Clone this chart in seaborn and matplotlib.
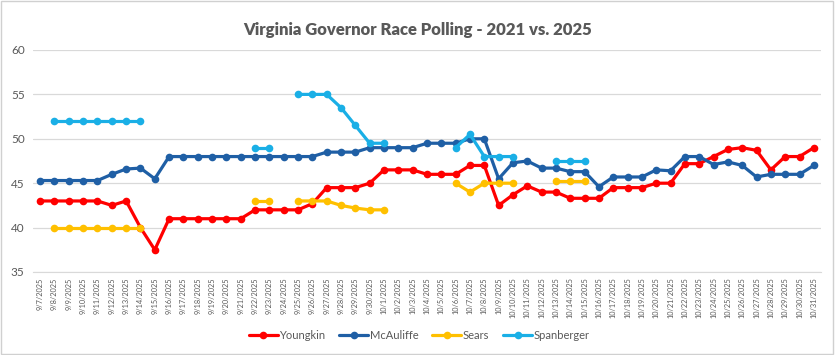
import numpy as np
import pandas as pd
import matplotlib
matplotlib.use("Agg")
import matplotlib.pyplot as plt
import seaborn as sns

nan = np.nan

dates = pd.date_range("2025-09-07", "2025-10-31", freq="D")
date_labels = [f"{d.month}/{d.day}/{d.year}" for d in dates]

youngkin = [43, 43, 43, 43, 43, 42.5, 43, 40, 37.5, 41,
            41, 41, 41, 41, 41, 42, 42, 42, 42, 42.7,
            44.5, 44.5, 44.5, 45, 46.5, 46.5, 46.5, 46, 46, 46,
            47, 47, 42.5, 43.7, 44.7, 44, 44, 43.3, 43.3, 43.3,
            44.5, 44.5, 44.5, 45, 45, 47.2, 47.2, 48, 48.8, 49,
            48.7, 46.5, 48, 48, 49]
mcauliffe = [45.3, 45.3, 45.3, 45.3, 45.3, 46, 46.6, 46.7, 45.5, 48,
             48, 48, 48, 48, 48, 48, 48, 48, 48, 48,
             48.5, 48.5, 48.5, 49, 49, 49, 49, 49.5, 49.5, 49.5,
             50, 50, 45.5, 47.3, 47.5, 46.7, 46.7, 46.3, 46.3, 44.6,
             45.7, 45.7, 45.7, 46.5, 46.4, 48, 48, 47.1, 47.4, 47,
             45.7, 46, 46, 46, 47]
sears = [nan, 40, 40, 40, 40, 40, 40, 40, nan, nan,
         nan, nan, nan, nan, nan, 43, 43, nan, 43, 43,
         43, 42.5, 42.2, 42, 42, nan, nan, nan, nan, 45,
         44, 45, 45, 45, nan, nan, 45.3, 45.3, 45.3] + [nan] * 16
spanberger = [nan, 52, 52, 52, 52, 52, 52, 52, nan, nan,
              nan, nan, nan, nan, nan, 49, 49, nan, 55, 55,
              55, 53.5, 51.5, 49.5, 49.5, nan, nan, nan, nan, 49,
              50.5, 48, 48, 48, nan, nan, 47.5, 47.5, 47.5] + [nan] * 16

candidates = ["Youngkin", "McAuliffe", "Sears", "Spanberger"]
colors = ["#FF0000", "#1F5FA5", "#FFC000", "#1AAFE6"]


def build_frame():
    frames = []
    for name, vals in zip(candidates, [youngkin, mcauliffe, sears, spanberger]):
        s = pd.Series(vals, dtype=float)
        # new segment id after every gap so lines break like Excel
        seg = s.isna().cumsum()
        frames.append(pd.DataFrame({"idx": np.arange(len(s)), "poll": s,
                                    "candidate": name, "seg": name + seg.astype(str)}))
    df = pd.concat(frames, ignore_index=True)
    return df.dropna(subset=["poll"])


def main():
    sns.set_style("white")
    plt.rcParams["font.family"] = ["Lato", "DejaVu Sans"]
    df = build_frame()

    fig = plt.figure(figsize=(8.35, 3.55), dpi=100)
    ax = fig.add_axes([33 / 835, 83 / 355, 788 / 835, 222 / 355])
    sns.lineplot(data=df, x="idx", y="poll", hue="candidate", hue_order=candidates,
                 palette=colors, units="seg", estimator=None, marker="o",
                 markersize=5.5, markeredgewidth=0, linewidth=2.3, ax=ax, sort=True)

    ax.set_xlim(-0.5, len(dates) - 0.5)
    ax.set_ylim(35, 60)
    ax.set_yticks([35, 40, 45, 50, 55, 60])
    ax.set_xticks(range(len(dates)))
    ax.set_xticklabels(date_labels, rotation=90, fontsize=5.3, color="#595959")
    ax.tick_params(axis="y", labelsize=8.5, labelcolor="#595959", length=0, pad=6)
    ax.tick_params(axis="x", length=0, pad=4)
    ax.grid(axis="y", color="#d9d9d9", linewidth=0.9)
    ax.set_axisbelow(True)
    for sp in ["left", "right", "top"]:
        ax.spines[sp].set_visible(False)
    ax.spines["bottom"].set_color("#d9d9d9")
    ax.set_xlabel("")
    ax.set_ylabel("")

    fig.text(0.5, 0.915, "Virginia Governor Race Polling - 2021 vs. 2025",
             ha="center", va="center", fontsize=12, fontweight="heavy", color="#595959")

    handles, labels = ax.get_legend_handles_labels()
    ax.legend_.remove()
    fig.legend(handles, labels, loc="center", bbox_to_anchor=(0.502, 0.055), ncol=4,
               frameon=False, fontsize=8, labelcolor="#595959", handlelength=2.6,
               handletextpad=0.15, columnspacing=1.25)

    fig.patches.append(plt.Rectangle((0.001, 0.002), 0.997, 0.995, transform=fig.transFigure,
                                     fill=False, edgecolor="#d0d0d0", linewidth=1))
    fig.savefig("out.png", dpi=100)
    plt.close(fig)


if __name__ == "__main__":
    main()
